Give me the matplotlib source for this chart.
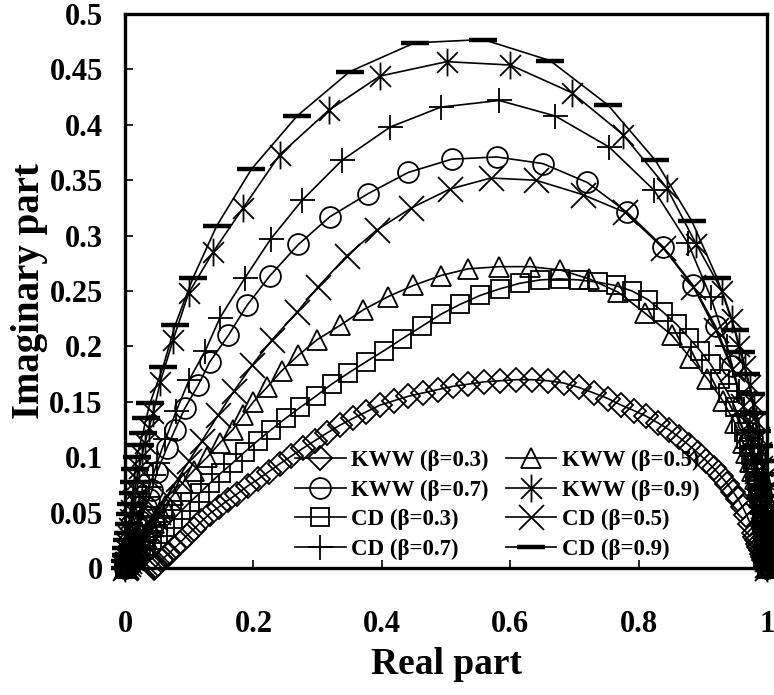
import matplotlib
matplotlib.use("Agg")
import matplotlib.pyplot as plt
from matplotlib.path import Path
from matplotlib.ticker import FuncFormatter, MultipleLocator

plt.rcParams['font.family'] = ['Liberation Serif', 'DejaVu Serif']
plt.rcParams['font.weight'] = 'bold'

# KWW (beta = 0.3)
kww03_x = [0.045, 0.047, 0.049, 0.052, 0.056, 0.060, 0.068, 0.077, 0.086, 0.096,
           0.107, 0.119, 0.132, 0.146, 0.160, 0.175, 0.191, 0.207, 0.224, 0.241,
           0.259, 0.277, 0.296, 0.315, 0.335, 0.355, 0.376, 0.397, 0.419, 0.441,
           0.464, 0.487, 0.511, 0.535, 0.559, 0.584, 0.609, 0.634, 0.659, 0.683,
           0.707, 0.730, 0.752, 0.773, 0.793, 0.812, 0.830, 0.847, 0.863, 0.878,
           0.892, 0.905, 0.917, 0.928, 0.938, 0.947, 0.955, 0.962, 0.968, 0.974,
           0.979, 0.982, 0.984, 0.986, 0.988, 0.990, 0.992, 0.994, 0.996, 0.998,
           0.999, 1.000]
kww03_y = [0.000, 0.001, 0.002, 0.004, 0.007, 0.009, 0.013, 0.018, 0.023, 0.029,
           0.035, 0.042, 0.049, 0.055, 0.061, 0.067, 0.074, 0.080, 0.087, 0.094,
           0.101, 0.108, 0.115, 0.122, 0.129, 0.135, 0.141, 0.147, 0.151, 0.155,
           0.158, 0.161, 0.164, 0.166, 0.168, 0.169, 0.170, 0.170, 0.169, 0.167,
           0.163, 0.158, 0.153, 0.147, 0.142, 0.137, 0.131, 0.125, 0.118, 0.111,
           0.104, 0.097, 0.090, 0.083, 0.076, 0.069, 0.062, 0.055, 0.048, 0.040,
           0.032, 0.028, 0.025, 0.022, 0.019, 0.016, 0.013, 0.010, 0.007, 0.004,
           0.002, 0.000]

# KWW (beta = 0.5)
kww05_x = [0.000, 0.001, 0.002, 0.004, 0.006, 0.009, 0.012, 0.015, 0.018, 0.022,
           0.026, 0.030, 0.035, 0.040, 0.045, 0.050, 0.056, 0.062, 0.075, 0.090,
           0.107, 0.128, 0.148, 0.168, 0.184, 0.200, 0.221, 0.244, 0.270, 0.299,
           0.335, 0.371, 0.410, 0.449, 0.492, 0.534, 0.583, 0.631, 0.678, 0.723,
           0.768, 0.810, 0.852, 0.880, 0.907, 0.931, 0.950, 0.963, 0.968, 0.973,
           0.977, 0.981, 0.984, 0.987, 0.989, 0.991, 0.993, 0.995, 0.996, 0.997,
           0.998, 0.999, 1.000, 1.000, 1.000]
kww05_y = [0.000, 0.001, 0.002, 0.004, 0.006, 0.009, 0.012, 0.015, 0.018, 0.021,
           0.025, 0.029, 0.033, 0.037, 0.041, 0.046, 0.051, 0.056, 0.066, 0.077,
           0.088, 0.100, 0.113, 0.125, 0.138, 0.150, 0.163, 0.178, 0.192, 0.206,
           0.219, 0.233, 0.245, 0.255, 0.264, 0.270, 0.272, 0.272, 0.269, 0.261,
           0.249, 0.230, 0.210, 0.190, 0.171, 0.151, 0.131, 0.113, 0.104, 0.096,
           0.088, 0.080, 0.072, 0.065, 0.058, 0.051, 0.044, 0.038, 0.032, 0.026,
           0.020, 0.015, 0.010, 0.005, 0.000]

# KWW (beta = 0.7)
kww07_x = [0.000, 0.001, 0.002, 0.004, 0.006, 0.008, 0.011, 0.014, 0.017, 0.020,
           0.024, 0.028, 0.032, 0.037, 0.042, 0.050, 0.065, 0.078, 0.093, 0.114,
           0.132, 0.161, 0.190, 0.226, 0.270, 0.319, 0.379, 0.441, 0.509, 0.579,
           0.651, 0.720, 0.782, 0.838, 0.885, 0.920, 0.945, 0.963, 0.970, 0.976,
           0.981, 0.985, 0.988, 0.991, 0.993, 0.995, 0.996, 0.997, 0.998, 0.999,
           1.000, 1.000, 1.000, 1.000]
kww07_y = [0.000, 0.002, 0.004, 0.007, 0.010, 0.015, 0.020, 0.025, 0.030, 0.036,
           0.042, 0.048, 0.055, 0.062, 0.070, 0.087, 0.108, 0.125, 0.144, 0.165,
           0.186, 0.210, 0.237, 0.264, 0.292, 0.317, 0.338, 0.357, 0.369, 0.371,
           0.365, 0.348, 0.321, 0.290, 0.255, 0.218, 0.182, 0.148, 0.132, 0.117,
           0.103, 0.090, 0.078, 0.067, 0.057, 0.048, 0.040, 0.033, 0.026, 0.020,
           0.014, 0.008, 0.003, 0.000]

# KWW (beta = 0.9)
kww09_x = [0.000, 0.0005, 0.001, 0.002, 0.003, 0.0045, 0.006, 0.008, 0.010, 0.012,
           0.015, 0.018, 0.022, 0.026, 0.031, 0.037, 0.044, 0.055, 0.075, 0.099,
           0.137, 0.184, 0.241, 0.317, 0.397, 0.501, 0.600, 0.696, 0.776, 0.844,
           0.890, 0.930, 0.945, 0.956, 0.965, 0.973, 0.979, 0.983, 0.987, 0.990,
           0.992, 0.994, 0.996, 0.997, 0.998, 0.999, 1.000, 1.000, 1.000, 1.000]
kww09_y = [0.000, 0.005, 0.010, 0.016, 0.022, 0.029, 0.036, 0.044, 0.052, 0.061,
           0.070, 0.080, 0.090, 0.101, 0.113, 0.126, 0.140, 0.168, 0.206, 0.248,
           0.285, 0.325, 0.373, 0.413, 0.444, 0.457, 0.454, 0.429, 0.391, 0.343,
           0.292, 0.250, 0.225, 0.200, 0.182, 0.165, 0.148, 0.133, 0.118, 0.105,
           0.092, 0.080, 0.069, 0.059, 0.049, 0.040, 0.030, 0.020, 0.010, 0.000]

# CD (beta = 0.3)
cd03_x = [0.000, 0.001, 0.002, 0.003, 0.005, 0.007, 0.009, 0.012, 0.015, 0.018,
          0.021, 0.025, 0.029, 0.033, 0.042, 0.052, 0.063, 0.075, 0.088, 0.102,
          0.117, 0.133, 0.150, 0.168, 0.187, 0.207, 0.228, 0.250, 0.273, 0.297,
          0.322, 0.348, 0.375, 0.403, 0.432, 0.462, 0.492, 0.522, 0.553, 0.584,
          0.615, 0.646, 0.677, 0.707, 0.736, 0.764, 0.790, 0.815, 0.838, 0.859,
          0.878, 0.896, 0.912, 0.926, 0.939, 0.950, 0.960, 0.964, 0.968, 0.972,
          0.975, 0.978, 0.981, 0.984, 0.986, 0.988, 0.990, 0.992, 0.993, 0.995,
          0.996, 0.997, 0.998, 0.999, 0.999, 1.000, 1.000, 1.000, 1.000]
cd03_y = [0.000, 0.0006, 0.001, 0.002, 0.003, 0.004, 0.0055, 0.007, 0.009, 0.011,
          0.013, 0.015, 0.017, 0.020, 0.025, 0.031, 0.037, 0.044, 0.052, 0.060,
          0.068, 0.077, 0.086, 0.095, 0.105, 0.115, 0.125, 0.135, 0.145, 0.155,
          0.166, 0.176, 0.186, 0.196, 0.207, 0.218, 0.229, 0.238, 0.246, 0.252,
          0.257, 0.260, 0.261, 0.260, 0.258, 0.255, 0.250, 0.242, 0.231, 0.220,
          0.208, 0.196, 0.184, 0.171, 0.158, 0.145, 0.130, 0.123, 0.116, 0.109,
          0.102, 0.095, 0.088, 0.081, 0.075, 0.068, 0.062, 0.055, 0.049, 0.043,
          0.037, 0.031, 0.026, 0.021, 0.016, 0.011, 0.007, 0.003, 0.000]

# CD (beta = 0.5)
cd05_x = [0.000, 0.001, 0.002, 0.004, 0.006, 0.009, 0.012, 0.016, 0.020, 0.025,
          0.030, 0.035, 0.040, 0.046, 0.052, 0.066, 0.082, 0.100, 0.120, 0.145,
          0.170, 0.198, 0.229, 0.268, 0.301, 0.346, 0.392, 0.446, 0.506, 0.570,
          0.640, 0.713, 0.779, 0.838, 0.885, 0.920, 0.945, 0.963, 0.970, 0.976,
          0.981, 0.985, 0.988, 0.991, 0.993, 0.995, 0.996, 0.997, 0.998, 0.999,
          1.000, 1.000, 1.000, 1.000]
cd05_y = [0.000, 0.001, 0.002, 0.004, 0.006, 0.009, 0.012, 0.016, 0.020, 0.025,
          0.030, 0.035, 0.040, 0.045, 0.051, 0.065, 0.080, 0.097, 0.115, 0.138,
          0.160, 0.183, 0.206, 0.231, 0.254, 0.282, 0.305, 0.325, 0.342, 0.352,
          0.350, 0.337, 0.321, 0.289, 0.254, 0.215, 0.180, 0.146, 0.130, 0.115,
          0.101, 0.088, 0.077, 0.066, 0.056, 0.047, 0.039, 0.032, 0.025, 0.019,
          0.013, 0.008, 0.003, 0.000]

# CD (beta = 0.7)
cd07_x = [0.000, 0.001, 0.002, 0.003, 0.004, 0.006, 0.008, 0.010, 0.013, 0.016,
          0.020, 0.024, 0.028, 0.033, 0.038, 0.044, 0.050, 0.063, 0.080, 0.100,
          0.125, 0.148, 0.187, 0.227, 0.276, 0.338, 0.413, 0.492, 0.583, 0.670,
          0.754, 0.824, 0.877, 0.912, 0.938, 0.956, 0.964, 0.970, 0.975, 0.980,
          0.984, 0.987, 0.990, 0.992, 0.994, 0.995, 0.997, 0.998, 0.999, 1.000,
          1.000, 1.000]
cd07_y = [0.000, 0.002, 0.004, 0.006, 0.008, 0.012, 0.016, 0.021, 0.026, 0.032,
          0.039, 0.047, 0.055, 0.064, 0.073, 0.084, 0.095, 0.116, 0.142, 0.170,
          0.196, 0.226, 0.262, 0.297, 0.332, 0.368, 0.398, 0.416, 0.422, 0.408,
          0.380, 0.341, 0.293, 0.245, 0.200, 0.160, 0.142, 0.125, 0.110, 0.095,
          0.082, 0.070, 0.060, 0.050, 0.042, 0.035, 0.027, 0.020, 0.014, 0.008,
          0.003, 0.000]

# CD (beta = 0.9)
cd09_x = [0.000, 0.0005, 0.001, 0.002, 0.003, 0.005, 0.007, 0.008, 0.010, 0.012,
          0.014, 0.016, 0.018, 0.023, 0.028, 0.033, 0.039, 0.059, 0.078, 0.106,
          0.143, 0.197, 0.268, 0.350, 0.451, 0.558, 0.662, 0.752, 0.826, 0.883,
          0.922, 0.950, 0.960, 0.968, 0.975, 0.980, 0.984, 0.988, 0.991, 0.993,
          0.995, 0.996, 0.997, 0.998, 0.999, 0.999, 1.000, 1.000, 1.000, 1.000,
          1.000]
cd09_y = [0.000, 0.006, 0.012, 0.018, 0.025, 0.032, 0.040, 0.049, 0.058, 0.068,
          0.078, 0.089, 0.100, 0.111, 0.122, 0.135, 0.149, 0.181, 0.219, 0.262,
          0.309, 0.360, 0.408, 0.448, 0.474, 0.477, 0.458, 0.418, 0.368, 0.313,
          0.262, 0.215, 0.195, 0.175, 0.157, 0.140, 0.124, 0.110, 0.097, 0.085,
          0.075, 0.065, 0.056, 0.047, 0.039, 0.032, 0.025, 0.018, 0.011, 0.005,
          0.000]

# asterisk: vertical bar plus an X
star = Path([(0, -1), (0, 1), (-0.75, -0.75), (0.75, 0.75), (-0.75, 0.75), (0.75, -0.75)],
            [Path.MOVETO, Path.LINETO, Path.MOVETO, Path.LINETO, Path.MOVETO, Path.LINETO])

series = [
    ("KWW (β=0.3)", kww03_x, kww03_y, dict(marker='D', ms=12)),
    ("KWW (β=0.5)", kww05_x, kww05_y, dict(marker='^', ms=15)),
    ("KWW (β=0.7)", kww07_x, kww07_y, dict(marker='o', ms=15)),
    ("KWW (β=0.9)", kww09_x, kww09_y, dict(marker=star, ms=20)),
    ("CD (β=0.3)", cd03_x, cd03_y, dict(marker='s', ms=12.5)),
    ("CD (β=0.5)", cd05_x, cd05_y, dict(marker='x', ms=18)),
    ("CD (β=0.7)", cd07_x, cd07_y, dict(marker='+', ms=18)),
    ("CD (β=0.9)", cd09_x, cd09_y, dict(marker='_', ms=20, mew=3.2)),
]

fig = plt.figure(figsize=(7.74, 6.95), dpi=100)
ax = fig.add_axes([0.1615, 0.1827, 0.8295, 0.7971])

handles = {}
for name, xs, ys, style in series:
    kw = dict(color='black', lw=1.2, mfc='none', mec='black', mew=1.3)
    kw.update(style)
    ln, = ax.plot(xs, ys, clip_on=False, label=name, **kw)
    handles[name] = ln

ax.set_xlim(0, 1)
ax.set_ylim(0, 0.5)
ax.xaxis.set_major_locator(MultipleLocator(0.2))
ax.yaxis.set_major_locator(MultipleLocator(0.05))
fmt = FuncFormatter(lambda v, p: '%g' % round(v, 3))
ax.xaxis.set_major_formatter(fmt)
ax.yaxis.set_major_formatter(fmt)

for s in ax.spines.values():
    s.set_linewidth(2.4)
ax.tick_params(direction='in', length=6, width=1.2, labelsize=22, top=False, right=False)
ax.tick_params(axis='x', pad=30)
ax.tick_params(axis='y', pad=16)
for lab in ax.get_xticklabels() + ax.get_yticklabels():
    lab.set_fontweight('bold')

ax.set_xlabel("Real part", fontsize=27, fontweight='bold', labelpad=6)
ax.set_ylabel("Imaginary part", fontsize=28, fontweight='bold', labelpad=1)

order = ["KWW (β=0.3)", "KWW (β=0.7)", "CD (β=0.3)", "CD (β=0.7)",
         "KWW (β=0.5)", "KWW (β=0.9)", "CD (β=0.5)", "CD (β=0.9)"]
leg = ax.legend([handles[n] for n in order], order, ncol=2, frameon=False,
                loc='upper left', bbox_to_anchor=(0.265, 0.213),
                borderaxespad=0, borderpad=0, numpoints=1,
                handlelength=2.2, handletextpad=0.25, columnspacing=0.75,
                labelspacing=0.36, prop=dict(size=16.5, weight='bold'))

fig.savefig("out.png", dpi=100)
